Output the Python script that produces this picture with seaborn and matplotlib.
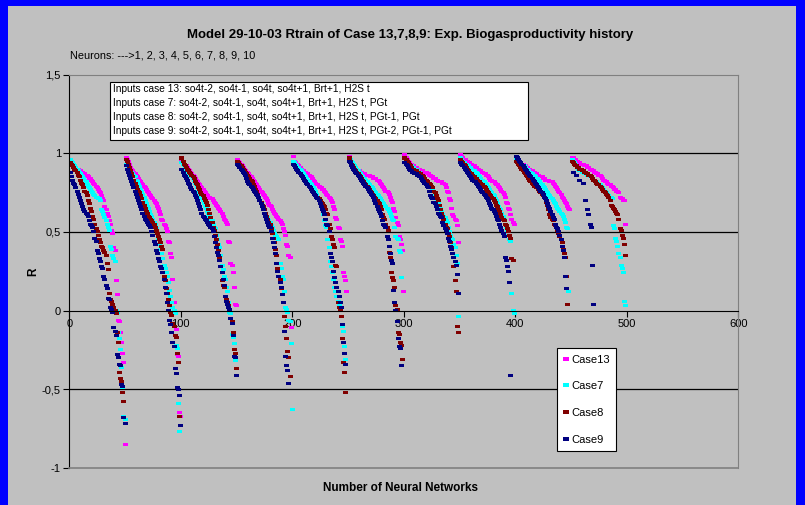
import numpy as np
import pandas as pd
import matplotlib
matplotlib.use("Agg")
import matplotlib.pyplot as plt
import seaborn as sns
from matplotlib.lines import Line2D
from matplotlib.patches import Rectangle

nan = np.nan

# series names and colours (Excel default palette)
cases = ["Case13", "Case7", "Case8", "Case9"]
colors = ["#FF00FF", "#00FFFF", "#800000", "#000080"]
group_size = 50  # 50 networks per neuron count (1..10 neurons)

# R values, sorted per neuron group
case13 = [
    [0.93,0.93,0.92,0.92,0.91,0.91,0.90,0.90,0.89,0.89,0.88,0.88,0.87,0.87,0.86,0.86,0.85,0.84,0.84,0.83,
     0.82,0.81,0.80,0.79,0.78,0.77,0.76,0.75,0.73,0.71,0.70,0.66,0.64,0.62,0.60,0.57,0.55,0.51,0.49,0.40,
     0.38,0.19,0.10,-0.06,-0.07,-0.14,-0.20,-0.27,-0.33,-0.85],
    [0.97,0.96,0.95,0.93,0.91,0.90,0.89,0.88,0.87,0.86,0.85,0.84,0.83,0.82,0.81,0.80,0.79,0.78,0.77,0.76,
     0.75,0.74,0.73,0.72,0.71,0.70,0.69,0.68,0.66,0.65,0.63,0.61,0.58,0.57,0.55,0.54,0.52,0.50,0.44,0.43,
     0.36,0.34,0.20,0.05,-0.02,-0.12,-0.28,-0.29,-0.65,-0.67],
    [0.95,0.94,0.93,0.92,0.92,0.91,0.90,0.89,0.88,0.87,0.86,0.85,0.84,0.83,0.82,0.81,0.80,0.79,0.78,0.77,
     0.76,0.75,0.74,0.73,0.72,0.72,0.71,0.71,0.70,0.69,0.68,0.67,0.66,0.65,0.64,0.63,0.62,0.60,0.58,0.57,
     0.56,0.55,0.44,0.43,0.30,0.29,0.24,0.15,0.04,0.03],
    [0.96,0.95,0.94,0.93,0.92,0.91,0.90,0.89,0.88,0.88,0.87,0.86,0.85,0.84,0.83,0.82,0.81,0.80,0.79,0.78,
     0.77,0.76,0.75,0.74,0.73,0.72,0.71,0.70,0.68,0.67,0.66,0.64,0.63,0.62,0.61,0.60,0.59,0.58,0.57,0.56,
     0.55,0.52,0.50,0.48,0.42,0.41,0.35,0.34,-0.11],
    [0.98,0.95,0.94,0.93,0.93,0.92,0.91,0.90,0.89,0.89,0.88,0.88,0.87,0.87,0.86,0.85,0.85,0.84,0.83,0.82,
     0.81,0.80,0.80,0.79,0.78,0.78,0.77,0.77,0.76,0.75,0.74,0.73,0.72,0.71,0.70,0.69,0.66,0.64,0.59,0.58,
     0.53,0.52,0.45,0.44,0.41,0.24,0.22,0.19,0.12],
    [0.98,0.96,0.95,0.94,0.93,0.92,0.91,0.90,0.89,0.89,0.88,0.88,0.87,0.87,0.87,0.86,0.86,0.86,0.86,0.85,
     0.85,0.85,0.84,0.84,0.84,0.83,0.83,0.82,0.81,0.80,0.79,0.78,0.77,0.76,0.76,0.75,0.74,0.72,0.70,0.69,
     0.65,0.63,0.59,0.56,0.54,0.47,0.45,0.42,0.38,0.12],
    [0.99,0.97,0.96,0.95,0.94,0.93,0.93,0.92,0.92,0.91,0.91,0.90,0.90,0.90,0.89,0.89,0.89,0.88,0.88,0.88,
     0.87,0.87,0.86,0.86,0.85,0.85,0.84,0.84,0.83,0.83,0.82,0.82,0.82,0.82,0.81,0.81,0.80,0.78,0.76,0.75,
     0.71,0.70,0.65,0.61,0.60,0.58,0.57,0.54,0.43],
    [0.99,0.98,0.97,0.96,0.96,0.95,0.95,0.94,0.94,0.93,0.93,0.92,0.92,0.91,0.91,0.90,0.90,0.89,0.89,0.88,
     0.88,0.87,0.87,0.86,0.86,0.85,0.84,0.83,0.83,0.82,0.82,0.81,0.80,0.80,0.79,0.78,0.77,0.76,0.75,0.74,
     0.72,0.69,0.68,0.65,0.64,0.61,0.58,0.56,0.55],
    [0.97,0.96,0.95,0.94,0.94,0.93,0.93,0.92,0.92,0.91,0.91,0.90,0.90,0.89,0.89,0.88,0.88,0.87,0.87,0.86,
     0.86,0.85,0.85,0.85,0.84,0.84,0.83,0.83,0.83,0.83,0.82,0.82,0.82,0.81,0.80,0.79,0.78,0.77,0.76,0.75,
     0.74,0.72,0.71,0.70,0.69,0.68,0.66,0.65,0.64],
    [0.97,0.97,0.96,0.96,0.95,0.95,0.94,0.94,0.93,0.93,0.93,0.92,0.92,0.92,0.91,0.91,0.90,0.90,0.89,0.89,
     0.88,0.88,0.87,0.87,0.86,0.86,0.85,0.84,0.83,0.83,0.82,0.82,0.81,0.80,0.80,0.79,0.79,0.78,0.77,0.77,
     0.76,0.76,0.75,0.72,0.71,0.71,0.70,0.70,0.55],
]

case7 = [
    [0.96,0.95,0.94,0.93,0.92,0.91,0.90,0.89,0.88,0.87,0.86,0.85,0.84,0.83,0.82,0.80,0.79,0.78,0.77,0.76,
     0.75,0.74,0.73,0.72,0.72,0.71,0.71,0.70,0.64,0.63,0.61,0.59,0.57,0.55,0.53,0.51,0.41,0.39,0.35,0.33,
     0.31,0.00,-0.01,-0.14,-0.18,-0.25,-0.36,-0.49,-0.67,-0.69],
    [0.93,0.92,0.91,0.90,0.89,0.88,0.87,0.86,0.85,0.83,0.82,0.80,0.79,0.77,0.76,0.74,0.72,0.70,0.68,0.66,
     0.65,0.63,0.61,0.60,0.58,0.56,0.55,0.52,0.49,0.45,0.42,0.39,0.36,0.33,0.29,0.27,0.24,0.22,0.18,0.13,
     0.09,0.05,0.02,0.00,-0.02,-0.22,-0.24,-0.59,-0.77],
    [0.94,0.93,0.92,0.91,0.90,0.89,0.88,0.87,0.86,0.85,0.84,0.83,0.81,0.80,0.78,0.76,0.75,0.73,0.71,0.70,
     0.68,0.66,0.65,0.63,0.61,0.60,0.58,0.57,0.55,0.53,0.52,0.48,0.45,0.42,0.40,0.35,0.29,0.26,0.22,0.20,
     0.15,0.12,0.05,-0.01,-0.02,-0.15,-0.17,-0.21,-0.32],
    [0.95,0.94,0.93,0.92,0.91,0.90,0.89,0.88,0.87,0.86,0.85,0.84,0.83,0.81,0.80,0.79,0.77,0.76,0.74,0.72,
     0.70,0.68,0.67,0.65,0.64,0.62,0.60,0.59,0.57,0.56,0.54,0.53,0.51,0.49,0.48,0.47,0.46,0.45,0.30,0.27,
     0.22,0.20,0.12,0.02,0.01,-0.01,-0.06,-0.07,-0.21,-0.63],
    [0.95,0.94,0.93,0.92,0.91,0.91,0.90,0.89,0.88,0.87,0.86,0.85,0.84,0.83,0.82,0.81,0.80,0.79,0.78,0.77,
     0.76,0.74,0.72,0.71,0.69,0.66,0.64,0.61,0.57,0.54,0.53,0.45,0.40,0.31,0.28,0.24,0.20,0.15,0.12,0.09,
     0.06,0.03,0.00,-0.04,-0.10,-0.13,-0.23,-0.31],
    [0.97,0.96,0.95,0.94,0.93,0.92,0.91,0.90,0.89,0.88,0.87,0.86,0.85,0.84,0.84,0.83,0.82,0.81,0.80,0.79,
     0.79,0.78,0.77,0.76,0.75,0.74,0.73,0.72,0.71,0.70,0.69,0.68,0.67,0.66,0.65,0.64,0.63,0.62,0.60,0.58,
     0.57,0.53,0.47,0.46,0.45,0.38,0.37,0.21],
    [0.97,0.96,0.95,0.94,0.93,0.92,0.92,0.91,0.91,0.90,0.90,0.89,0.88,0.88,0.87,0.86,0.86,0.85,0.84,0.83,
     0.82,0.81,0.80,0.79,0.78,0.77,0.76,0.74,0.72,0.70,0.69,0.66,0.65,0.63,0.61,0.60,0.59,0.57,0.56,0.53,
     0.50,0.48,0.46,0.45,0.42,0.40,0.35,0.30,-0.04],
    [0.97,0.96,0.95,0.94,0.93,0.93,0.92,0.92,0.91,0.91,0.90,0.89,0.89,0.88,0.88,0.87,0.86,0.85,0.84,0.83,
     0.83,0.82,0.81,0.80,0.79,0.78,0.77,0.76,0.75,0.74,0.73,0.71,0.70,0.68,0.66,0.65,0.64,0.62,0.60,0.58,
     0.55,0.53,0.51,0.48,0.45,0.44,0.11,0.00,-0.02],
    [0.97,0.96,0.95,0.94,0.94,0.93,0.92,0.92,0.91,0.90,0.90,0.89,0.88,0.88,0.87,0.86,0.86,0.85,0.84,0.84,
     0.83,0.82,0.81,0.80,0.79,0.78,0.77,0.76,0.75,0.74,0.73,0.72,0.71,0.70,0.69,0.68,0.66,0.65,0.64,0.63,
     0.62,0.61,0.60,0.58,0.56,0.53,0.52,0.12],
    [0.96,0.95,0.94,0.93,0.92,0.91,0.90,0.89,0.89,0.88,0.88,0.87,0.87,0.87,0.86,0.86,0.85,0.85,0.84,0.83,
     0.83,0.82,0.82,0.81,0.80,0.80,0.79,0.78,0.77,0.76,0.76,0.75,0.74,0.73,0.72,0.72,0.71,0.54,0.52,0.46,
     0.44,0.41,0.36,0.34,0.29,0.27,0.24,0.06,0.03],
]

case8 = [
    [0.94,0.93,0.92,0.91,0.90,0.89,0.88,0.86,0.85,0.83,0.81,0.80,0.78,0.76,0.75,0.73,0.70,0.68,0.65,0.63,
     0.60,0.58,0.55,0.52,0.50,0.48,0.45,0.43,0.41,0.40,0.38,0.37,0.35,0.30,0.26,0.11,0.07,0.06,0.04,0.02,
     0.00,-0.02,-0.14,-0.20,-0.39,-0.43,-0.45,-0.52,-0.58],
    [0.96,0.95,0.93,0.91,0.89,0.87,0.85,0.83,0.81,0.79,0.77,0.76,0.75,0.73,0.71,0.69,0.67,0.65,0.63,0.62,
     0.60,0.59,0.58,0.57,0.56,0.55,0.53,0.51,0.49,0.47,0.45,0.43,0.41,0.39,0.22,0.19,0.14,0.11,0.07,0.03,
     -0.01,-0.03,-0.08,-0.10,-0.16,-0.17,-0.27,-0.33,-0.67],
    [0.97,0.95,0.93,0.92,0.91,0.90,0.89,0.88,0.87,0.86,0.85,0.84,0.82,0.81,0.80,0.78,0.77,0.75,0.74,0.73,
     0.71,0.70,0.69,0.67,0.64,0.62,0.59,0.56,0.53,0.51,0.48,0.45,0.42,0.38,0.34,0.28,0.19,0.16,0.15,0.09,
     0.07,0.05,0.03,0.01,-0.05,-0.07,-0.14,-0.25,-0.27,-0.37],
    [0.95,0.94,0.93,0.92,0.91,0.90,0.89,0.88,0.87,0.86,0.85,0.84,0.83,0.82,0.80,0.79,0.77,0.76,0.74,0.72,
     0.70,0.69,0.67,0.66,0.64,0.62,0.60,0.58,0.56,0.55,0.52,0.49,0.46,0.43,0.39,0.35,0.27,0.22,0.20,0.14,
     0.10,0.05,-0.04,-0.10,-0.18,-0.26,-0.30,-0.42],
    [0.93,0.92,0.91,0.90,0.89,0.88,0.87,0.86,0.85,0.84,0.83,0.82,0.81,0.80,0.79,0.78,0.77,0.76,0.75,0.74,
     0.73,0.72,0.72,0.71,0.70,0.69,0.68,0.67,0.66,0.64,0.62,0.61,0.55,0.52,0.47,0.45,0.42,0.40,0.29,0.28,
     0.05,0.02,0.00,-0.04,-0.18,-0.33,-0.39,-0.52],
    [0.97,0.95,0.93,0.92,0.91,0.90,0.89,0.88,0.87,0.86,0.85,0.84,0.83,0.82,0.81,0.80,0.79,0.78,0.77,0.76,
     0.75,0.74,0.73,0.72,0.71,0.70,0.69,0.68,0.66,0.64,0.61,0.59,0.58,0.55,0.53,0.51,0.37,0.34,0.24,0.21,
     0.19,0.15,0.03,0.01,-0.14,-0.15,-0.20,-0.22,-0.31],
    [0.97,0.96,0.95,0.94,0.93,0.92,0.91,0.90,0.90,0.89,0.89,0.88,0.88,0.87,0.87,0.86,0.86,0.85,0.84,0.83,
     0.82,0.81,0.81,0.80,0.79,0.78,0.76,0.75,0.73,0.71,0.70,0.67,0.64,0.62,0.60,0.58,0.55,0.53,0.52,0.49,
     0.47,0.43,0.40,0.36,0.28,0.19,0.12,-0.10,-0.14],
    [0.96,0.95,0.94,0.93,0.92,0.91,0.90,0.89,0.88,0.87,0.87,0.86,0.85,0.84,0.84,0.83,0.82,0.82,0.81,0.80,
     0.80,0.79,0.78,0.77,0.76,0.75,0.74,0.73,0.72,0.71,0.70,0.69,0.67,0.66,0.64,0.63,0.61,0.59,0.58,0.57,
     0.55,0.54,0.52,0.50,0.48,0.46,0.33,0.32],
    [0.95,0.94,0.93,0.92,0.91,0.90,0.89,0.88,0.87,0.86,0.85,0.84,0.83,0.82,0.81,0.80,0.79,0.79,0.78,0.78,
     0.77,0.76,0.75,0.74,0.73,0.72,0.71,0.69,0.67,0.64,0.61,0.59,0.58,0.57,0.55,0.54,0.53,0.51,0.49,0.47,
     0.45,0.43,0.39,0.36,0.34,0.22,0.04],
    [0.95,0.94,0.93,0.92,0.92,0.91,0.91,0.90,0.90,0.89,0.89,0.88,0.88,0.87,0.87,0.86,0.86,0.85,0.84,0.83,
     0.83,0.82,0.81,0.80,0.80,0.79,0.78,0.77,0.76,0.76,0.75,0.74,0.73,0.72,0.70,0.67,0.66,0.65,0.64,0.63,
     0.62,0.61,0.58,0.52,0.51,0.48,0.46,0.42,0.35],
]

case9 = [
    [0.88,0.85,0.83,0.81,0.80,0.78,0.76,0.74,0.72,0.70,0.68,0.66,0.64,0.63,0.62,0.61,0.60,0.57,0.55,0.54,
     0.53,0.50,0.46,0.44,0.38,0.36,0.33,0.31,0.28,0.27,0.22,0.20,0.16,0.14,0.08,0.07,0.02,0.01,-0.01,-0.11,
     -0.13,-0.16,-0.28,-0.30,-0.34,-0.35,-0.47,-0.48,-0.68,-0.72],
    [0.92,0.90,0.88,0.86,0.84,0.82,0.80,0.78,0.76,0.74,0.72,0.70,0.68,0.66,0.64,0.62,0.60,0.58,0.57,0.56,
     0.55,0.54,0.53,0.50,0.48,0.44,0.42,0.38,0.36,0.33,0.31,0.28,0.27,0.24,0.20,0.15,0.11,0.05,0.00,-0.06,
     -0.09,-0.14,-0.20,-0.23,-0.37,-0.40,-0.49,-0.50,-0.54,-0.73],
    [0.90,0.88,0.86,0.85,0.84,0.83,0.81,0.80,0.78,0.77,0.76,0.75,0.73,0.72,0.70,0.68,0.66,0.64,0.62,0.60,
     0.59,0.58,0.57,0.56,0.55,0.54,0.53,0.52,0.50,0.47,0.43,0.40,0.37,0.35,0.32,0.28,0.24,0.20,0.16,0.09,
     0.06,0.04,0.02,0.01,-0.05,-0.08,-0.16,-0.29,-0.30,-0.41],
    [0.93,0.92,0.91,0.90,0.89,0.88,0.87,0.86,0.84,0.82,0.81,0.80,0.79,0.78,0.77,0.76,0.75,0.74,0.73,0.72,
     0.70,0.68,0.66,0.64,0.62,0.60,0.58,0.56,0.54,0.53,0.50,0.46,0.43,0.40,0.36,0.30,0.25,0.22,0.18,0.15,
     0.10,0.05,-0.13,-0.29,-0.35,-0.38,-0.46],
    [0.93,0.92,0.91,0.90,0.89,0.88,0.87,0.86,0.85,0.84,0.83,0.82,0.81,0.80,0.79,0.78,0.77,0.76,0.75,0.74,
     0.73,0.72,0.71,0.70,0.68,0.66,0.64,0.63,0.61,0.58,0.55,0.54,0.50,0.36,0.34,0.31,0.25,0.21,0.18,0.15,
     0.12,0.09,0.05,0.02,-0.09,-0.20,-0.27,-0.34],
    [0.95,0.94,0.92,0.91,0.90,0.89,0.88,0.87,0.86,0.85,0.84,0.83,0.82,0.81,0.80,0.79,0.78,0.77,0.76,0.75,
     0.74,0.73,0.72,0.70,0.68,0.66,0.64,0.63,0.62,0.60,0.57,0.55,0.54,0.53,0.47,0.45,0.41,0.36,0.32,0.30,
     0.13,0.05,0.00,-0.07,-0.18,-0.23,-0.24,-0.35],
    [0.94,0.93,0.92,0.91,0.90,0.89,0.89,0.88,0.88,0.87,0.87,0.86,0.86,0.85,0.85,0.84,0.83,0.82,0.81,0.80,
     0.79,0.78,0.76,0.73,0.72,0.71,0.69,0.68,0.66,0.64,0.62,0.61,0.60,0.59,0.56,0.54,0.52,0.51,0.49,0.46,
     0.44,0.41,0.39,0.36,0.34,0.31,0.29,0.23,0.11],
    [0.94,0.93,0.92,0.91,0.90,0.89,0.88,0.87,0.86,0.85,0.84,0.83,0.82,0.82,0.81,0.80,0.79,0.78,0.77,0.76,
     0.75,0.74,0.73,0.72,0.71,0.70,0.68,0.67,0.65,0.64,0.63,0.62,0.60,0.58,0.57,0.55,0.53,0.51,0.49,0.47,
     0.34,0.32,0.28,0.25,0.18,-0.41],
    [0.98,0.97,0.96,0.95,0.94,0.93,0.92,0.91,0.90,0.89,0.88,0.87,0.86,0.85,0.84,0.83,0.82,0.81,0.80,0.79,
     0.78,0.77,0.76,0.75,0.74,0.72,0.71,0.70,0.68,0.66,0.65,0.63,0.61,0.59,0.58,0.55,0.53,0.52,0.50,0.48,
     0.45,0.41,0.38,0.34,0.22,0.14],
    [nan,0.88,nan,nan,0.86,nan,nan,0.83,nan,nan,0.81,nan,0.70,nan,0.64,0.61,0.55,0.53,0.29,0.04],
]

inputs_text = [
    "Inputs case 13: so4t-2, so4t-1, so4t, so4t+1, Brt+1, H2S t",
    "Inputs case 7: so4t-2, so4t-1, so4t, so4t+1, Brt+1, H2S t, PGt",
    "Inputs case 8: so4t-2, so4t-1, so4t, so4t+1, Brt+1, H2S t, PGt-1, PGt",
    "Inputs case 9: so4t-2, so4t-1, so4t, so4t+1, Brt+1, H2S t, PGt-2, PGt-1, PGt",
]
yticks = [-1, -0.5, 0, 0.5, 1, 1.5]
ytick_labels = ["-1", "-0,5", "0", "0,5", "1", "1,5"]

# long table for seaborn
rows = []
for name, groups in zip(cases, [case13, case7, case8, case9]):
    for g, vals in enumerate(groups):
        for i, v in enumerate(vals):
            rows.append((name, g * group_size + i + 1, v))
df = pd.DataFrame(rows, columns=["case", "x", "R"]).dropna()

plt.rcParams["font.family"] = ["Liberation Sans", "DejaVu Sans"]

W, H = 805, 505
fig = plt.figure(figsize=(W / 100, H / 100), dpi=100, facecolor="#0000FF")
fig.add_artist(Rectangle((8 / W, 0), (796 - 8) / W, (H - 6) / H, transform=fig.transFigure,
                         facecolor="#C0C0C0", edgecolor="none", zorder=-5))

ax = fig.add_axes([69.3 / W, (H - 468) / H, (738.3 - 69.3) / W, (468 - 74.6) / H])
ax.set_facecolor("#C0C0C0")

# small horizontal dash like Excel's marker
dash = [(-1, -0.6), (1, -0.6), (1, 0.6), (-1, 0.6)]

for y in [1, 0.5, -0.5]:
    ax.axhline(y, color="black", lw=0.9, zorder=0.5)

sns.scatterplot(data=df, x="x", y="R", hue="case", palette=dict(zip(cases, colors)),
                marker=dash, s=13, linewidth=0, edgecolor="none", legend=False, ax=ax, zorder=2)

ax.set_xlim(0, 600)
ax.set_ylim(-1, 1.5)
ax.set_xticks(range(0, 601, 100))
ax.set_yticks(yticks)
ax.set_yticklabels(ytick_labels)
ax.set_xlabel("")
ax.set_ylabel("")

ax.spines["bottom"].set_position(("data", 0))
ax.spines["bottom"].set_color("black")
ax.spines["left"].set_color("black")
ax.spines["top"].set_color("#808080")
ax.spines["right"].set_color("#808080")
ax.axhline(-1, color="#808080", lw=1.2, clip_on=False, zorder=3)
ax.tick_params(axis="both", direction="out", length=4, width=0.8, colors="black", labelsize=8, pad=2)

fig.text(0.51, (H - 35) / H, "Model 29-10-03 Rtrain of Case 13,7,8,9: Exp. Biogasproductivity history",
         ha="center", va="center", fontsize=9.5, fontweight="bold")
fig.text(70 / W, (H - 56) / H, "Neurons: --->1, 2, 3, 4, 5, 6, 7, 8, 9, 10", ha="left", va="center", fontsize=7.8)
fig.text(400 / W, (H - 488) / H, "Number of Neural Networks", ha="center", va="center", fontsize=8.5, fontweight="bold")
fig.text(33 / W, (H - 272) / H, "R", ha="center", va="center", rotation=90, fontsize=8.5, fontweight="bold")

# inputs box
fig.add_artist(Rectangle((110 / W, (H - 140) / H), 418 / W, 58 / H, transform=fig.transFigure,
                         facecolor="white", edgecolor="black", lw=0.8, zorder=4))
for k, line in enumerate(inputs_text):
    fig.text(113 / W, (H - 89.5 - 13.8 * k) / H, line, ha="left", va="center", fontsize=7.3, zorder=5)

handles = [Line2D([], [], marker=dash, linestyle="none", markersize=4, markerfacecolor=c,
                  markeredgewidth=0) for c in colors]
leg = fig.legend(handles, cases, loc="upper left", bbox_to_anchor=(557 / W, 1 - 348 / H),
                 frameon=True, fancybox=False, edgecolor="black", facecolor="white", framealpha=1,
                 borderpad=0.6, labelspacing=1.5, handlelength=0.45, handletextpad=0.2, fontsize=8,
                 borderaxespad=0)
leg.get_frame().set_linewidth(0.8)

fig.savefig("out.png", dpi=100, facecolor=fig.get_facecolor())
